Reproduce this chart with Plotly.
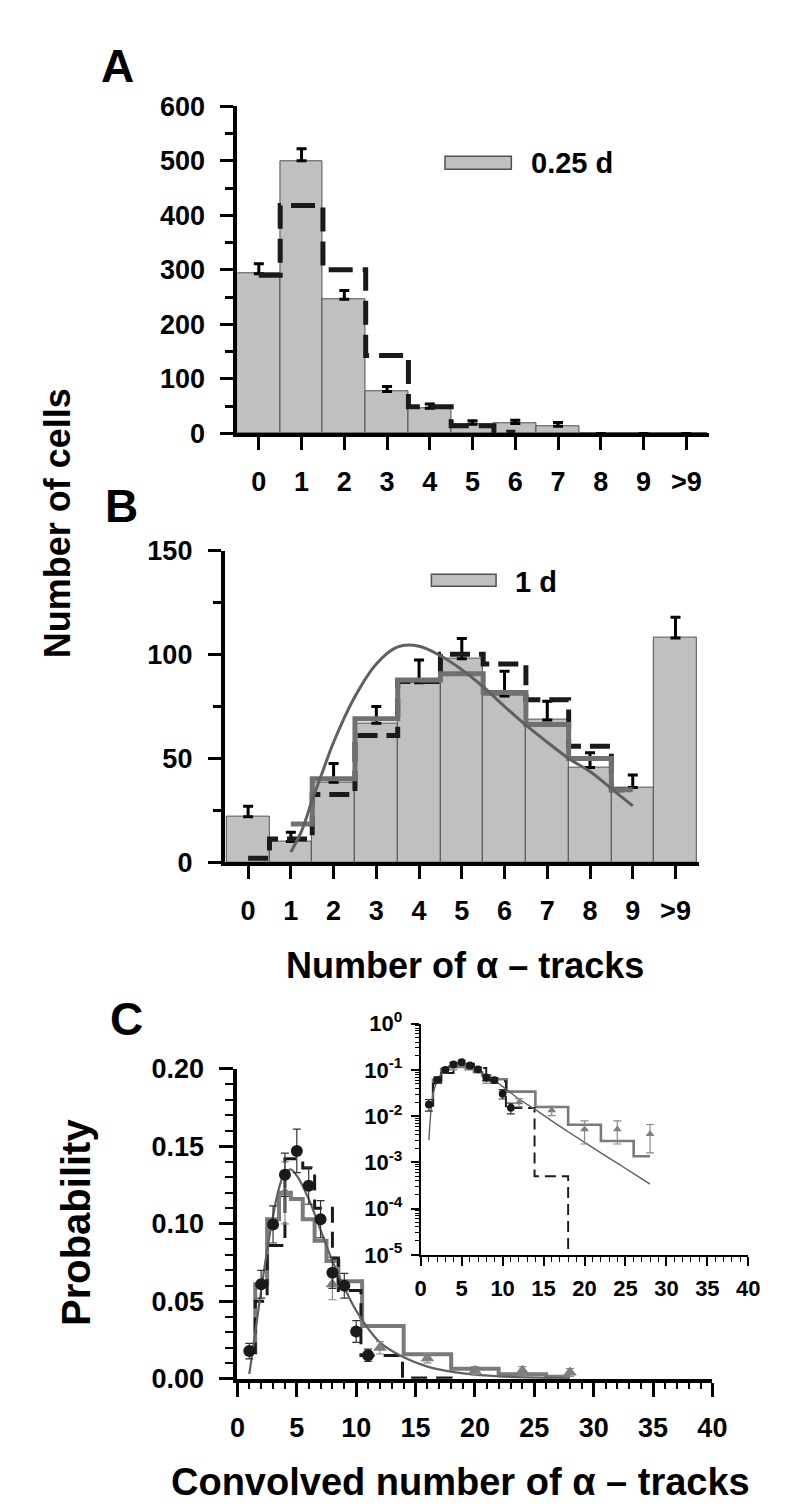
import plotly.graph_objects as go

W, H = 800, 1506
FONT = "Liberation Sans, Arial, sans-serif"

# ---------------- Panel A data (0.25 d) ----------------
a_labels = ['0', '1', '2', '3', '4', '5', '6', '7', '8', '9', '>9']
a_counts = [293, 500, 246, 77, 46, 17, 18, 13, 0, 0, 0]
a_err = [18, 22, 16, 9, 8, 6, 6, 7, 0, 0, 0]
a_model_x = [0, 1, 2, 3, 4, 5, 6]
a_model = [290, 418, 300, 143, 49, 14, 2]

# ---------------- Panel B data (1 d) ----------------
b_labels = ['0', '1', '2', '3', '4', '5', '6', '7', '8', '9', '>9']
b_counts = [22, 10, 38.6, 67, 86.4, 98, 80, 68.5, 45.7, 36, 108]
b_err = [5, 4.5, 9, 8, 11, 9.7, 12, 9, 7, 6, 10]
b_dash_x = [0, 1, 2, 3, 4, 5, 6, 7, 8, 9]
b_dash = [2, 11.2, 32.7, 61, 87, 100.2, 95.5, 78.2, 55.9, 35]
b_step_x = [1, 2, 3, 4, 5, 6, 7, 8, 9]
b_step = [18.5, 40.2, 69.1, 87.7, 90.8, 81.7, 66.4, 50, 35]
b_curve_x = [1, 1.25, 1.5, 1.75, 2, 2.5, 3, 3.5, 4, 4.5, 5, 5.5, 6, 6.5, 7, 7.5, 8, 8.5, 9]
b_curve = [5, 15, 30, 44, 57.8, 79.8, 95.5, 103.7, 104, 99.4, 92.7, 84.5, 75, 66, 57.8, 50, 43.7, 35.5, 27.2]

# ---------------- Panel C data ----------------
c_circ_x = [1, 2, 3, 4, 5, 6, 7, 8, 9, 10, 11]
c_circ = [0.0179, 0.061, 0.0996, 0.1316, 0.147, 0.1246, 0.103, 0.0684, 0.060, 0.0305, 0.0152]
c_circ_err = [0.005, 0.009, 0.012, 0.014, 0.014, 0.012, 0.012, 0.010, 0.008, 0.007, 0.004]
c_tri_x = [4, 8, 12, 16, 20, 24, 28]
c_tri = [0.12, 0.061, 0.020, 0.0133, 0.0052, 0.0052, 0.0041]
c_tri_err = [0.02, 0.010, 0.004, 0.003, 0.0027, 0.0027, 0.0025]
c_step_x = [1, 2, 3, 4, 5, 6, 7, 8, 9, 12, 16, 20, 24, 28]
c_step = [0.017, 0.061, 0.103, 0.12, 0.116, 0.103, 0.089, 0.076, 0.063, 0.034, 0.0158, 0.0065, 0.0029, 0.00136]
c_dash_x = [1, 1.5, 2.5, 4.0, 5.5, 6.5, 8.0, 8.5, 10.4, 13.9, 18.0]
c_dash = [0.017, 0.05, 0.086, 0.142, 0.136, 0.11, 0.078, 0.057, 0.015, 0.0005, 1e-7]
c_curve_x = [1, 1.5, 2, 2.5, 3, 3.5, 4, 4.5, 5, 6, 7, 8, 9, 10, 12, 14, 16, 18, 20, 22, 24, 26, 28]
c_curve = [0.003, 0.03, 0.057, 0.083, 0.105, 0.123, 0.133, 0.135, 0.131, 0.116, 0.096, 0.076, 0.059,
           0.044, 0.0235, 0.0139, 0.0079, 0.0046, 0.0027, 0.0016, 0.00096, 0.00057, 0.00034]

inset_exp = [0, -1, -2, -3, -4, -5]

BAR_FILL = '#c0c0c0'
BAR_EDGE = '#505050'
GRAY = '#707070'
DARK = '#1a1a1a'


def px_x(p):
    return p / W


def px_y(p):
    return 1 - p / H


fig = go.Figure()

# ----- Panel A -----
a_pos = list(range(len(a_labels)))
fig.add_trace(go.Bar(x=a_pos, y=a_counts, width=1,
                     marker=dict(color=BAR_FILL, line=dict(color=BAR_EDGE, width=1)),
                     error_y=dict(type='data', array=a_err, arrayminus=[0] * len(a_err),
                                  symmetric=False, color='black', thickness=3, width=5),
                     xaxis='x', yaxis='y', showlegend=False))
fig.add_trace(go.Scatter(x=a_model_x, y=a_model, mode='lines',
                         line=dict(shape='hvh', color=DARK, width=5, dash='24px,10px'),
                         xaxis='x', yaxis='y', showlegend=False))

# ----- Panel B -----
b_pos = list(range(len(b_labels)))
fig.add_trace(go.Bar(x=b_pos, y=b_counts, width=1,
                     marker=dict(color=BAR_FILL, line=dict(color=BAR_EDGE, width=1)),
                     error_y=dict(type='data', array=b_err, arrayminus=[0] * len(b_err),
                                  symmetric=False, color='black', thickness=3, width=5),
                     xaxis='x2', yaxis='y2', showlegend=False))
fig.add_trace(go.Scatter(x=b_dash_x, y=b_dash, mode='lines',
                         line=dict(shape='hvh', color=DARK, width=5, dash='20px,9px'),
                         xaxis='x2', yaxis='y2', showlegend=False))
fig.add_trace(go.Scatter(x=b_step_x, y=b_step, mode='lines',
                         line=dict(shape='hvh', color=GRAY, width=5),
                         xaxis='x2', yaxis='y2', showlegend=False))
fig.add_trace(go.Scatter(x=b_curve_x, y=b_curve, mode='lines',
                         line=dict(shape='spline', color='#606060', width=3),
                         xaxis='x2', yaxis='y2', showlegend=False))


# ----- Panel C (main + inset) -----
def add_c(xa, ya, scale):
    fig.add_trace(go.Scatter(x=c_step_x, y=c_step, mode='lines',
                             line=dict(shape='hvh', color='#7a7a7a', width=4 * scale),
                             xaxis=xa, yaxis=ya, showlegend=False))
    fig.add_trace(go.Scatter(x=c_dash_x, y=c_dash, mode='lines',
                             line=dict(shape='hv', color=DARK, width=3 * scale,
                                       dash='%dpx,%dpx' % (14 * scale + 2, 8 * scale + 1)),
                             xaxis=xa, yaxis=ya, showlegend=False))
    fig.add_trace(go.Scatter(x=c_curve_x, y=c_curve, mode='lines',
                             line=dict(shape='spline', color='#606060', width=2.2 * scale),
                             xaxis=xa, yaxis=ya, showlegend=False))
    fig.add_trace(go.Scatter(x=c_tri_x, y=c_tri, mode='markers',
                             marker=dict(symbol='triangle-up', size=12 * scale, color='#7f7f7f'),
                             error_y=dict(type='data', array=c_tri_err, color='#8a8a8a',
                                          thickness=1.2, width=4),
                             xaxis=xa, yaxis=ya, showlegend=False))
    fig.add_trace(go.Scatter(x=c_circ_x, y=c_circ, mode='markers',
                             marker=dict(symbol='circle', size=12 * scale, color=DARK),
                             error_y=dict(type='data', array=c_circ_err, color='#333333',
                                          thickness=1.2, width=4),
                             xaxis=xa, yaxis=ya, showlegend=False))


add_c('x3', 'y3', 1.0)
add_c('x4', 'y4', 0.65)


def axis(lw, tlen, tw, fs, **kw):
    d = dict(showline=True, linecolor='black', linewidth=lw, ticks='outside',
             ticklen=tlen, tickwidth=tw, tickcolor='black', showgrid=False,
             zeroline=False, fixedrange=True,
             tickfont=dict(family=FONT, size=fs, color='black', weight='bold'))
    d.update(kw)
    return d


layout = dict(
    width=W, height=H, margin=dict(l=0, r=0, t=0, b=0),
    paper_bgcolor='white', plot_bgcolor='rgba(0,0,0,0)',
    bargap=0, showlegend=False,
    # Panel A
    xaxis=axis(4, 13, 3, 27, domain=[px_x(228), px_x(713)], range=[-0.5, 10.52],
               tickmode='array', tickvals=a_pos, ticktext=a_labels, anchor='y',
               ticklabelstandoff=8),
    yaxis=axis(4, 13, 3, 27, domain=[px_y(418), px_y(84)], range=[0, 600], dtick=100,
               anchor='x', ticklabelstandoff=10,
               minor=dict(ticks='outside', ticklen=8, tickwidth=3, tickcolor='black', dtick=50)),
    # Panel B
    xaxis2=axis(4, 13, 3, 27, domain=[px_x(215), px_x(703)], range=[-0.545, 10.545],
                tickmode='array', tickvals=b_pos, ticktext=b_labels, anchor='y2',
                ticklabelstandoff=8),
    yaxis2=axis(4, 13, 3, 27, domain=[px_y(856), px_y(537.7)], range=[0, 150], dtick=50,
                anchor='x2', ticklabelstandoff=10,
                minor=dict(ticks='outside', ticklen=8, tickwidth=3, tickcolor='black', dtick=25)),
    # Panel C main
    xaxis3=axis(4, 14, 3, 27, domain=[px_x(228), px_x(717)], range=[0, 40], dtick=5,
                anchor='y3', ticklabelstandoff=8,
                minor=dict(ticks='outside', ticklen=6, tickwidth=2, tickcolor='black', dtick=1)),
    yaxis3=axis(4, 14, 3, 27, domain=[px_y(1383.3), px_y(1066.7)], range=[0, 0.20], dtick=0.05,
                tickformat='.2f', anchor='x3', ticklabelstandoff=10,
                minor=dict(ticks='outside', ticklen=8, tickwidth=2, tickcolor='black', dtick=0.01)),
    # Inset
    xaxis4=axis(2, 9, 2, 22, domain=[px_x(416.7), px_x(754)], range=[0, 40], dtick=5,
                anchor='y4', ticklabelstandoff=4,
                minor=dict(ticks='outside', ticklen=5, tickwidth=1, tickcolor='black', dtick=1)),
    yaxis4=axis(2, 8, 2, 22, type='log', domain=[px_y(1256.7), px_y(1020.7)], range=[-5, 0],
                tickmode='array', tickvals=[10.0 ** e for e in inset_exp],
                ticktext=['10<sup>%d</sup>' % e for e in inset_exp],
                anchor='x4', ticklabelstandoff=4,
                minor=dict(ticks='outside', ticklen=4, tickwidth=1, tickcolor='black',
                           tickvals=[k * 10.0 ** e for e in range(-5, 0) for k in range(2, 10)])),
)
fig.update_layout(**layout)


def text(t, x, y, size, angle=0, xanchor='center'):
    fig.add_annotation(text=t, x=px_x(x), y=px_y(y), xref='paper', yref='paper',
                       showarrow=False, textangle=angle, xanchor=xanchor, yanchor='middle',
                       font=dict(family=FONT, size=size, color='black', weight='bold'))


text('A', 104.5, 42.5, 46)
text('B', 109, 492.5, 46)
text('C', 113.5, 1016, 46)
text('0.25 d', 528, 141.7, 29, xanchor='left')
text('1 d', 511.7, 570, 29, xanchor='left')
text('Number of cells', 43, 510, 36, angle=-90)
text('Number of α – tracks', 462, 961, 36)
text('Probability', 62, 1224, 40, angle=-90)
text('Convolved number of α – tracks', 458, 1489, 38)

# legend swatches
for (x0, x1, y0, y1) in [(441.7, 510, 135, 148.3), (427.7, 494.3, 561.7, 574)]:
    fig.add_shape(type='rect', xref='paper', yref='paper',
                  x0=px_x(x0), x1=px_x(x1), y0=px_y(y1), y1=px_y(y0),
                  fillcolor=BAR_FILL, line=dict(color=BAR_EDGE, width=1.5))

fig.write_html("out.html")
